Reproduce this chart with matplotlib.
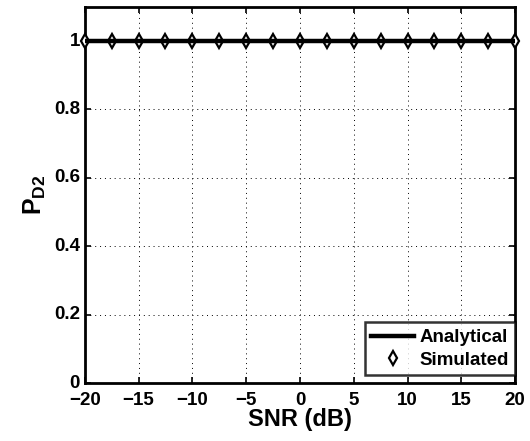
import numpy as np
import matplotlib
matplotlib.use("Agg")
import matplotlib.pyplot as plt

plt.rcParams['font.family'] = ['Liberation Sans', 'DejaVu Sans']
plt.rcParams['font.weight'] = 'bold'
plt.rcParams['mathtext.fontset'] = 'custom'
plt.rcParams['mathtext.rm'] = 'Liberation Sans:bold'
plt.rcParams['mathtext.bf'] = 'Liberation Sans:bold'
plt.rcParams['mathtext.it'] = 'Liberation Sans:bold'

snr_analytical = [-20, 20]
pd2_analytical = [1.0, 1.0]
snr_simulated = [-20, -17.5, -15, -12.5, -10, -7.5, -5, -2.5, 0, 2.5, 5, 7.5, 10, 12.5, 15, 17.5, 20]
pd2_simulated = [1.0] * 17
xticks = [-20, -15, -10, -5, 0, 5, 10, 15, 20]
yticks = [0, 0.2, 0.4, 0.6, 0.8, 1]
yticklabels = ['0', '0.2', '0.4', '0.6', '0.8', '1']

fig = plt.figure(figsize=(5.30, 4.41), dpi=100)
ax = fig.add_axes([0.160, 0.1315, 0.812, 0.853])

mk = dict(linestyle='none', marker='d', markersize=7, markerfacecolor='white',
          markeredgecolor='black', markeredgewidth=1.6)
ax.plot(snr_simulated, pd2_simulated, clip_on=False, zorder=3, **mk)
ax.plot(snr_analytical, pd2_analytical, color='black', linewidth=3.2, zorder=4,
        solid_capstyle='butt')
# legend proxies
h1, = ax.plot([], [], color='black', linewidth=3.2, label='Analytical')
h2, = ax.plot([], [], label='Simulated', **mk)

ax.set_xlim(-20, 20)
ax.set_ylim(0, 1.1)
ax.set_xticks(xticks)
ax.set_xticklabels([('\u2212' + str(abs(t))) if t < 0 else str(t) for t in xticks])
ax.set_yticks(yticks)
ax.set_yticklabels(yticklabels)
ax.tick_params(direction='in', length=4, width=1.2, labelsize=13.5, top=True, right=True,
               labeltop=False, labelright=False)
ax.tick_params(axis='x', pad=6.5)
ax.tick_params(axis='y', pad=3.5)
for lab in ax.get_yticklabels():
    lab.set_verticalalignment('center')
for lab in ax.get_xticklabels() + ax.get_yticklabels():
    lab.set_fontweight('bold')
for s in ax.spines.values():
    s.set_linewidth(2.0)
ax.grid(True, linestyle=(0, (1, 4)), color='black', linewidth=0.7)

ax.set_xlabel('SNR (dB)', fontsize=17, fontweight='bold', labelpad=-1)
ax.set_ylabel(r'$\mathbf{P_{D2}}$', fontsize=18, labelpad=4)

leg = ax.legend(handles=[h1, h2], loc='lower right', bbox_to_anchor=(1.0, 0.02),
                fontsize=13.5, frameon=True, fancybox=False,
                borderaxespad=0.0, handlelength=2.25, borderpad=0.35, labelspacing=0.3,
                handletextpad=0.3)
leg.get_frame().set_edgecolor('black')
leg.get_frame().set_linewidth(1.8)
for t in leg.get_texts():
    t.set_fontweight('bold')

fig.savefig('out.png', dpi=100)
